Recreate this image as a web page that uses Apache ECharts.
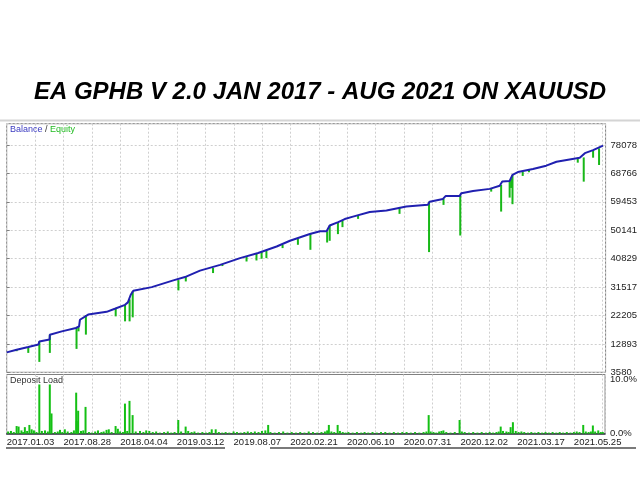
<!DOCTYPE html>
<html><head><meta charset="utf-8">
<script src="https://cdn.jsdelivr.net/npm/echarts@6/dist/echarts.min.js"></script>
<style>html,body{margin:0;padding:0;background:#fff}#c{width:640px;height:480px}</style>
</head><body><div id="c"></div>
<script>
// ---- data (x = trade number, grid step 100) ----
const titleText = 'EA GPHB V 2.0 JAN 2017 - AUG 2021 ON XAUUSD';
const dateLabels = ['2017.01.03','2017.08.28','2018.04.04','2019.03.12','2019.08.07','2020.02.21','2020.06.10','2020.07.31','2020.12.02','2021.03.17','2021.05.25'];
const balanceTicks = ['3580','12893','22205','31517','40829','50141','59453','68766','78078'];
// balance curve [trade, balance]
const balance = [
  [0,10100],[35,11000],[76,11900],[112,12700],[115,13700],[151,14300],[152,15900],
  [194,17000],[244,18100],[255,18600],[258,20800],[287,22500],[352,23400],[381,24400],
  [417,25700],[427,26500],[437,29000],[446,30300],[511,31500],[587,33700],[628,34800],
  [681,36900],[752,38800],[822,41000],[886,42700],[951,44800],[998,46700],[1068,48900],
  [1104,49800],[1127,49800],[1138,51700],[1168,52800],[1191,53800],[1220,54600],
  [1279,56100],[1338,56600],[1408,57900],[1484,58500],[1490,59500],[1537,60400],
  [1547,61400],[1596,61400],[1602,62300],[1643,63000],[1702,63700],[1737,64700],
  [1746,66100],[1772,66300],[1782,68300],[1801,69200],[1854,70200],[1901,71300],
  [1937,72600],[2019,73900],[2037,75400],[2066,76400],[2101,77900]
];
// equity drawdowns [trade, balance level, equity low]
const equityDrops = [
  [35,11000,10500],[76,11900,9940],[115,13700,6990],[152,15900,9940],[246,18100,11250],
  [253,18400,17010],[279,22300,15930],[384,24400,21920],[417,25700,20280],[433,27500,20280],
  [444,30200,21590],[605,33800,30420],[631,34800,33360],[727,37800,36110],[760,38900,38400],
  [845,41500,39900],[880,42600,40230],[898,43000,40790],[915,43500,41010],[972,45300,44290],
  [1026,47400,45370],[1070,48900,43730],[1129,49800,46120],[1138,51700,46680],
  [1167,52800,48870],[1183,53400,51160],[1238,55000,53870],[1384,57500,55510],
  [1488,59500,42980],[1539,60500,58450],[1598,61500,48410],[1707,63800,62800],
  [1742,65000,56260],[1772,66300,60840],[1777,67000,64000],[1782,68300,58680],
  [1818,69300,67940],[1840,69900,69150],[2012,73800,72290],[2033,74000,66070],
  [2066,76400,73920],[2087,77000,71530]
];
// deposit load [trade, percent]
const depositLoad = [
  [5,0.4],[15,0.5],[25,0.3],[35,1.4],[42,1.3],[52,0.6],[58,0.3],[64,1.2],[72,0.5],[80,1.6],
  [88,0.8],[96,0.6],[105,0.3],[115,9.0],[124,0.5],[135,0.6],[145,0.4],[152,9.0],[158,3.7],
  [170,0.3],[180,0.4],[188,0.7],[196,0.3],[205,0.8],[215,0.4],[228,0.3],[237,0.6],[245,7.5],
  [247,2.3],[252,4.2],[262,0.5],[270,0.6],[278,4.9],[290,0.3],[300,0.2],[312,0.4],[322,0.6],
  [334,0.3],[342,0.4],[352,0.7],[360,0.8],[370,0.3],[384,1.4],[392,0.9],[400,0.4],[410,0.3],
  [417,5.5],[425,0.5],[433,6.0],[444,3.4],[455,0.4],[470,0.5],[482,0.3],[492,0.6],[503,0.5],
  [515,0.3],[527,0.4],[540,0.2],[555,0.3],[568,0.4],[580,0.2],[592,0.3],[605,2.5],[615,0.4],
  [631,1.3],[640,0.5],[652,0.3],[662,0.4],[675,0.2],[690,0.3],[703,0.2],[715,0.3],[723,0.8],
  [737,0.8],[748,0.3],[760,0.2],[772,0.3],[785,0.2],[800,0.4],[812,0.3],[825,0.2],[838,0.3],
  [850,0.4],[862,0.3],[875,0.4],[888,0.3],[900,0.5],[912,0.6],[922,1.6],[930,0.3],[945,0.2],
  [960,0.3],[975,0.4],[990,0.2],[1005,0.3],[1020,0.2],[1035,0.3],[1050,0.2],[1065,0.4],
  [1080,0.3],[1095,0.2],[1110,0.3],[1122,0.4],[1130,0.6],[1136,1.6],[1145,0.4],[1155,0.3],
  [1167,1.6],[1175,0.5],[1185,0.3],[1195,0.2],[1205,0.3],[1220,0.2],[1235,0.3],[1250,0.2],
  [1262,0.3],[1275,0.2],[1290,0.3],[1305,0.2],[1320,0.3],[1335,0.3],[1350,0.2],[1365,0.3],
  [1380,0.2],[1395,0.3],[1410,0.3],[1425,0.2],[1440,0.3],[1455,0.2],[1470,0.3],[1480,0.4],
  [1488,3.4],[1495,0.4],[1505,0.3],[1515,0.2],[1525,0.4],[1533,0.5],[1540,0.6],[1550,0.3],
  [1565,0.2],[1580,0.3],[1597,2.5],[1605,0.4],[1615,0.3],[1630,0.2],[1645,0.3],[1660,0.2],
  [1675,0.3],[1690,0.2],[1703,0.3],[1715,0.2],[1727,0.3],[1735,0.4],[1742,1.3],[1750,0.5],
  [1762,0.4],[1770,0.3],[1777,1.2],[1785,2.1],[1795,0.5],[1805,0.3],[1815,0.4],[1825,0.3],
  [1838,0.2],[1850,0.3],[1862,0.2],[1875,0.3],[1888,0.2],[1900,0.3],[1912,0.2],[1925,0.3],
  [1938,0.2],[1950,0.3],[1962,0.2],[1975,0.3],[1988,0.2],[2000,0.3],[2010,0.4],[2020,0.3],
  [2033,1.6],[2042,0.4],[2052,0.3],[2060,0.4],[2067,1.5],[2075,0.4],[2086,0.6],[2095,0.3],[2102,0.3]
];

const F = 'Liberation Sans, Arial, sans-serif';
const chart = echarts.init(document.getElementById('c'), null, {renderer:'canvas'});
const gridLine = {show:true, lineStyle:{color:'#cfcfcf', type:[2,2], width:1}};
const Y0 = 3580, YSTEP = 9312.25;

chart.setOption({
  animation:false,
  backgroundColor:'#fff',
  title:{text:titleText, left:'center', top:75,
    textStyle:{fontFamily:F, fontStyle:'italic', fontWeight:'bold', fontSize:24, color:'#000'}},
  graphic:[
    {type:'line', shape:{x1:0,y1:120.5,x2:640,y2:120.5}, style:{stroke:'#d4d4d4', lineWidth:2}},
    {type:'line', shape:{x1:6,y1:448,x2:225,y2:448}, style:{stroke:'#7a7a7a', lineWidth:2}},
    {type:'line', shape:{x1:270,y1:448,x2:636,y2:448}, style:{stroke:'#7a7a7a', lineWidth:2}},
    {type:'text', left:10, top:125, z:20, style:{text:'{b|Balance} {s|/} {e|Equity}', font:'9px '+F,
      rich:{b:{fill:'#3b3bc0', font:'9px '+F}, s:{fill:'#333', font:'9px '+F}, e:{fill:'#22bb22', font:'9px '+F}}}},
    {type:'text', left:10, top:376, z:20, style:{text:'Deposit Load', fill:'#333', font:'9px '+F}}
  ],
  grid:[
    {left:6.7, right:34.3, top:123.7, height:248.6, show:true, borderColor:'#808080', borderWidth:1},
    {left:6.7, right:34.3, top:374.5, height:59.2, show:true, borderColor:'#808080', borderWidth:1}
  ],
  xAxis:[
    {type:'value', gridIndex:0, min:0, max:2110, interval:100,
      axisLine:{show:false}, axisTick:{show:false}, axisLabel:{show:false}, splitLine:gridLine},
    {type:'value', gridIndex:1, min:0, max:2110, interval:100,
      axisLine:{show:true, onZero:false, lineStyle:{color:'#303040', width:1.5}},
      axisTick:{show:false}, splitLine:gridLine,
      axisLabel:{show:true, showMaxLabel:false, align:'left', margin:4, color:'#222', fontFamily:F, fontSize:9.5,
        formatter:v => (v % 200 === 0 && dateLabels[v/200]) ? dateLabels[v/200] : ''}}
  ],
  yAxis:[
    {type:'value', gridIndex:0, position:'right', min:Y0, max:85060, interval:YSTEP,
      axisLine:{show:false}, axisTick:{show:true, length:3, lineStyle:{color:'#808080'}},
      splitLine:gridLine,
      axisLabel:{showMaxLabel:false, margin:5, color:'#222', fontFamily:F, fontSize:9.5,
        formatter:v => balanceTicks[Math.round((v - Y0)/YSTEP)] || ''}},
    {type:'value', gridIndex:1, position:'right', min:0, max:10.82, interval:10,
      axisLine:{show:false}, axisTick:{show:false}, splitLine:{show:false},
      axisLabel:{showMaxLabel:false, margin:5, color:'#222', fontFamily:F, fontSize:9.5,
        formatter:v => v.toFixed(1) + '%'}}
  ],
  series:[
    {type:'custom', xAxisIndex:0, yAxisIndex:0, data:equityDrops, encode:{x:0, y:[1,2]}, z:2,
      renderItem:(params, api) => {
        const p1 = api.coord([api.value(0), api.value(1)]);
        const p2 = api.coord([api.value(0), api.value(2)]);
        return {type:'rect', shape:{x:p1[0]-1, y:p1[1], width:2, height:p2[1]-p1[1]}, style:{fill:'#18b818'}};
      }},
    {type:'line', xAxisIndex:0, yAxisIndex:0, data:balance, showSymbol:false, z:5,
      lineStyle:{color:'#2020b0', width:2}},
    {type:'bar', xAxisIndex:1, yAxisIndex:1, data:depositLoad, barWidth:2, z:2,
      itemStyle:{color:'#14c014'}}
  ]
});
</script></body></html>
